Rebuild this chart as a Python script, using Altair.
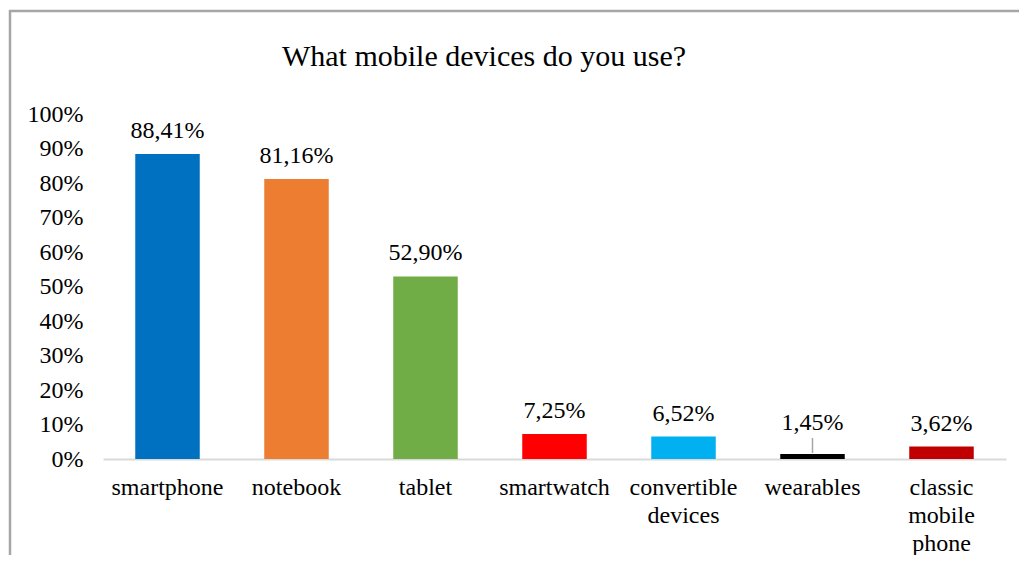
import altair as alt
import pandas as pd

categories = ["smartphone", "notebook", "tablet", "smartwatch",
              "convertible devices", "wearables", "classic mobile phone"]
values = [88.41, 81.16, 52.90, 7.25, 6.52, 1.45, 3.62]
colors = ["#0070C0", "#ED7D31", "#70AD47", "#FF0000", "#00B0F0", "#000000", "#C00000"]
y_ticks = [0, 10, 20, 30, 40, 50, 60, 70, 80, 90, 100]
title_text = "What mobile devices do you use?"
leader_category = "wearables"

FONT = "Liberation Serif"
FS = 24
df = pd.DataFrame({"category": categories, "value": values})

x_axis = alt.Axis(labelAngle=0, ticks=False, domainColor="#d9d9d9",
                  domainWidth=2, labelFont=FONT, labelFontSize=FS,
                  labelColor="#000000", labelPadding=16,
                  labelLineHeight=28, labelExpr="split(datum.label, ' ')",
                  labelOverlap=False, grid=False)
y_axis = alt.Axis(values=y_ticks, labelExpr="datum.value + '%'",
                  ticks=False, domain=False, grid=False,
                  labelOverlap=False,
                  labelFont=FONT, labelFontSize=FS, labelColor="#000000",
                  labelPadding=20)
x_scale = alt.Scale(paddingInner=0.5, paddingOuter=0.25)
y_scale = alt.Scale(domain=[0, 100], nice=False)

def X():
    return alt.X("category:N", sort=categories, title=None, scale=x_scale, axis=x_axis)

def Y():
    return alt.Y("value:Q", title=None, scale=y_scale, axis=y_axis)

base = alt.Chart(df)

bars = base.mark_bar().encode(
    x=X(), y=Y(),
    color=alt.Color("category:N", sort=categories,
                    scale=alt.Scale(domain=categories, range=colors), legend=None),
)

label_text = "replace(format(datum.value, '.2f'), '.', ',') + '%'"

labels = base.transform_filter(f"datum.category != '{leader_category}'").transform_calculate(
    lbl=label_text
).mark_text(font=FONT, fontSize=FS, baseline="middle", dy=-23, color="#000000").encode(
    x=X(), y=Y(), text="lbl:N")

labels_w = base.transform_filter(f"datum.category == '{leader_category}'").transform_calculate(
    lbl=label_text
).mark_text(font=FONT, fontSize=FS, baseline="middle", dy=-31, color="#000000").encode(
    x=X(), y=Y(), text="lbl:N")

leader = base.transform_filter(f"datum.category == '{leader_category}'").mark_rule(
    color="#a6a6a6", strokeWidth=1.5, yOffset=-1, y2Offset=-16
).encode(x=X(), y=Y(), y2="value")

one = alt.Chart(pd.DataFrame({"title": [title_text]}))
title = one.mark_text(font=FONT, fontSize=30, align="center", baseline="middle",
                      color="#000000").encode(
    x=alt.value(381), y=alt.value(-57), text="title:N")

border_top = one.mark_rule(stroke="#a6a6a6", strokeWidth=2.5).encode(
    x=alt.value(-94), x2=alt.value(925), y=alt.value(-103))
border_left = one.mark_rule(stroke="#a6a6a6", strokeWidth=2.5).encode(
    x=alt.value(-93), y=alt.value(-104), y2=alt.value(460))

chart = alt.layer(border_top, border_left, bars, leader, labels, labels_w, title).properties(
    width=903, height=345,
    autosize=alt.AutoSizeParams(type="none"),
    padding={"left": 95, "top": 106, "right": 13, "bottom": 96},
).configure(background="#ffffff").configure_view(strokeWidth=0, stroke="transparent")

chart.save("out.html", embed_options={"renderer": "svg", "actions": False})
